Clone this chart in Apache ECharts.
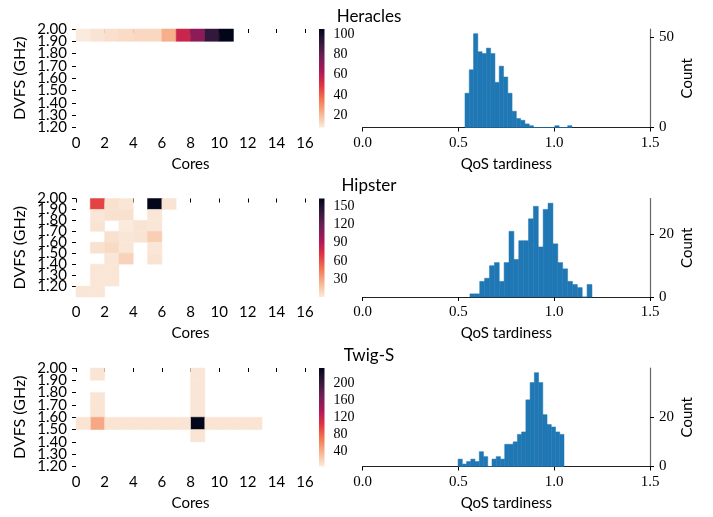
<!DOCTYPE html>
<html><head><meta charset="utf-8">
<script src="https://cdn.jsdelivr.net/npm/echarts@6/dist/echarts.min.js"></script>
<style>html,body{margin:0;padding:0;background:#fff}#c{width:713px;height:517px}</style>
</head><body><div id="c"></div>
<script>
// ---------- data ----------
const panelNames = ['Heracles', 'Hipster', 'Twig-S'];
const coreTickStep = 2;
const dvfsTickLabels = ['2.00','1.90','1.80','1.70','1.60','1.50','1.40','1.30','1.20'];
const dvfsRowCounts = [8, 9, 8];

// heatmap cells: [core, dvfsRow (0 = top), count]
const heraclesCells = [[0,0,8],[1,0,10],[2,0,11],[3,0,12],[4,0,13],[5,0,13],[6,0,23],[7,0,56],[8,0,71],[9,0,92],[10,0,105]];
const hipsterCells = [
  [1,0,65],[2,0,5],[3,0,3],[5,0,162],[6,0,4],
  [1,1,3],[2,1,5],[3,1,5],[5,1,3],
  [1,2,4],[3,2,1],[4,2,4],[5,2,3],
  [2,3,5],[3,3,3],[4,3,4],[5,3,13],
  [1,4,5],[2,4,8],[3,4,3],[5,4,3],
  [2,5,3],[3,5,11],[5,5,4],
  [1,6,3],[2,6,3],
  [1,7,3],[2,7,3],
  [0,8,3],[1,8,3]
];
const twigCells = [
  [1,0,9],[1,2,9],[1,3,9],[1,4,44],
  [8,0,8],[8,1,8],[8,2,8],[8,3,8],[8,4,235],[8,5,9],
  [0,4,9],[2,4,9],[3,4,9],[4,4,9],[5,4,9],[6,4,9],[7,4,9],[9,4,9],[10,4,9],[11,4,9],[12,4,9]
];
const heraclesColorRange = [8, 105];
const hipsterColorRange = [1, 162];
const twigColorRange = [5, 235];
const heraclesColorTicks = [20,40,60,80,100];
const hipsterColorTicks = [30,60,90,120,150];
const twigColorTicks = [40,80,120,160,200];

// histograms
const qosTickStep = 0.5;
const heraclesBinStart = 0.534, heraclesBinWidth = 0.02235;
const heraclesCounts = [19,32,52,42,41,44,41,25,34,28,19,9,5,4,2,1,0,0,0,0,0,1,0,0,1];
const hipsterBinStart = 0.560, hipsterBinWidth = 0.02548;
const hipsterCounts = [1,1,5,6,10,11,5,11,21,12,18,18,25,29,16,28,30,17,11,9,5,4,3,0,4];
const twigBinStart = 0.498, twigBinWidth = 0.02212;
const twigCounts = [3,1,2,3,2,6,4,0,3,4,3,9,9,10,13,14,27,34,38,34,21,17,16,14,13];
const heraclesCountTicks = [0, 50];
const hipsterCountTicks = [0, 20];
const twigCountTicks = [0, 20];

// ---------- styling / layout ----------
const SANS = 'Lato';
const SERIF = 'Liberation Serif';
const rocketR = ['#faebdd','#f6b48f','#f37651','#e13342','#ad1759','#701f57','#35193e','#03051a'];
const rowTops = [29, 198.5, 368];
const rowH = 98.5;

const cellsAll = [heraclesCells, hipsterCells, twigCells];
const ranges = [heraclesColorRange, hipsterColorRange, twigColorRange];
const cTicks = [heraclesColorTicks, hipsterColorTicks, twigColorTicks];
const hists = [
  [heraclesBinStart, heraclesBinWidth, heraclesCounts, heraclesCountTicks],
  [hipsterBinStart, hipsterBinWidth, hipsterCounts, hipsterCountTicks],
  [twigBinStart, twigBinWidth, twigCounts, twigCountTicks]
];

const grid = [], xAxis = [], yAxis = [], series = [], visualMap = [], title = [];
const tickStyle = {color: '#000', width: 1};
const rowIdx = dvfsTickLabels.map((_, i) => i);
const evenIdx = rowIdx.filter(i => i % 2 === 0);
const oddIdx = rowIdx.filter(i => i % 2 === 1);
const dvfsLabelStyle = {margin: 9, fontFamily: SANS, fontSize: 15, color: '#000',
  showMinLabel: true, showMaxLabel: true, formatter: v => dvfsTickLabels[Math.round(v)]};

for (let p = 0; p < 3; p++) {
  const top = rowTops[p];
  const gHeat = grid.length;
  grid.push({left: 76, top: top, width: 229, height: rowH});
  const gBar = grid.length;
  grid.push({left: 319, top: top, width: 5.5, height: rowH});
  const gHist = grid.length;
  grid.push({left: 362.7, top: top, width: 287.3, height: rowH});
  const nRows = dvfsRowCounts[p];

  // heatmap axes
  const xHeat = xAxis.length;
  xAxis.push({gridIndex: gHeat, type: 'value', min: 0, max: 16, interval: coreTickStep,
    name: 'Cores', nameLocation: 'middle', nameGap: 29,
    nameTextStyle: {fontFamily: SANS, fontSize: 15, color: '#000'},
    axisLine: {show: false}, axisTick: {show: true, length: 4, lineStyle: tickStyle},
    axisLabel: {margin: 8, fontFamily: SANS, fontSize: 15, color: '#000', showMinLabel: true, showMaxLabel: true},
    splitLine: {show: false}});
  const yHeat = yAxis.length;
  yAxis.push({gridIndex: gHeat, type: 'value', min: 0, max: nRows, inverse: true, position: 'left',
    name: 'DVFS (GHz)', nameLocation: 'middle', nameGap: 48, nameRotate: 90, nameMoveOverlap: false,
    nameTextStyle: {fontFamily: SANS, fontSize: 16, color: '#000'},
    axisLine: {show: false},
    axisTick: {show: true, length: 4, lineStyle: tickStyle, customValues: rowIdx},
    axisLabel: Object.assign({customValues: evenIdx}, dvfsLabelStyle),
    splitLine: {show: false}});
  yAxis.push({gridIndex: gHeat, type: 'value', min: 0, max: nRows, inverse: true, position: 'left', offset: 0,
    axisLine: {show: false}, axisTick: {show: false},
    axisLabel: Object.assign({customValues: oddIdx}, dvfsLabelStyle),
    splitLine: {show: false}});
  // colorbar axes
  const rg = ranges[p];
  const xBar = xAxis.length;
  xAxis.push({gridIndex: gBar, type: 'value', min: 0, max: 1, show: false});
  const yBar = yAxis.length;
  yAxis.push({gridIndex: gBar, type: 'value', min: rg[0], max: rg[1], position: 'right',
    axisLine: {show: false},
    axisTick: {show: true, length: 4, lineStyle: tickStyle, customValues: cTicks[p]},
    axisLabel: {margin: 9, fontFamily: SERIF, fontSize: 14, color: '#000', customValues: cTicks[p],
      showMinLabel: true, showMaxLabel: true},
    splitLine: {show: false}});
  // histogram axes
  const h = hists[p];
  const ymax = Math.max.apply(null, h[2]) * 1.05;
  const xHist = xAxis.length;
  xAxis.push({gridIndex: gHist, type: 'value', min: 0, max: 1.5, interval: qosTickStep,
    name: 'QoS tardiness', nameLocation: 'middle', nameGap: 29,
    nameTextStyle: {fontFamily: SANS, fontSize: 15, color: '#000'},
    axisLine: {show: true, onZero: false, lineStyle: {color: '#222', width: 1.2}},
    axisTick: {show: true, length: 4, lineStyle: tickStyle},
    axisLabel: {margin: 8, fontFamily: SERIF, fontSize: 15, color: '#000', formatter: v => v.toFixed(1),
      showMinLabel: true, showMaxLabel: true},
    splitLine: {show: false}});
  const yHist = yAxis.length;
  yAxis.push({gridIndex: gHist, type: 'value', min: 0, max: ymax, position: 'right',
    name: 'Count', nameLocation: 'middle', nameGap: 30, nameRotate: 90,
    nameTextStyle: {fontFamily: SANS, fontSize: 15, color: '#000'},
    axisLine: {show: true, onZero: false, lineStyle: {color: '#666', width: 1.2}},
    axisTick: {show: true, length: 4, lineStyle: tickStyle, customValues: h[3]},
    axisLabel: {margin: 9, fontFamily: SERIF, fontSize: 15, color: '#000', customValues: h[3],
      showMinLabel: true, showMaxLabel: true},
    splitLine: {show: false}});

  // heatmap cells
  const cellSeriesIndex = series.length;
  series.push({type: 'custom', xAxisIndex: xHeat, yAxisIndex: yHeat, coordinateSystem: 'cartesian2d',
    encode: {x: 0, y: 1}, data: cellsAll[p],
    renderItem: function (params, api) {
      const c = api.value(0), r = api.value(1);
      const a = api.coord([c, r]), b = api.coord([c + 1, r + 1]);
      const col = api.visual('color');
      return {type: 'rect', shape: {x: Math.min(a[0], b[0]), y: Math.min(a[1], b[1]),
        width: Math.abs(b[0] - a[0]), height: Math.abs(b[1] - a[1])},
        style: {fill: col, stroke: col, lineWidth: 0.5}};
    }});
  visualMap.push({type: 'continuous', show: false, seriesIndex: cellSeriesIndex, dimension: 2,
    min: rg[0], max: rg[1], inRange: {color: rocketR}});
  // colorbar
  series.push({type: 'custom', xAxisIndex: xBar, yAxisIndex: yBar, coordinateSystem: 'cartesian2d',
    data: [[0, rg[0], 1, rg[1]]], silent: true,
    renderItem: function (params, api) {
      const a = api.coord([api.value(0), api.value(3)]);
      const b = api.coord([api.value(2), api.value(1)]);
      const stops = rocketR.slice().reverse().map((c, i) => ({offset: i / (rocketR.length - 1), color: c}));
      return {type: 'rect', shape: {x: a[0], y: a[1], width: b[0] - a[0], height: b[1] - a[1]},
        style: {fill: new echarts.graphic.LinearGradient(0, 0, 0, 1, stops)}};
    }});
  // histogram
  const bins = h[2].map((cnt, i) => [h[0] + i * h[1], h[0] + (i + 1) * h[1], cnt]);
  series.push({type: 'custom', xAxisIndex: xHist, yAxisIndex: yHist, coordinateSystem: 'cartesian2d',
    encode: {x: [0, 1], y: 2}, data: bins, z: 1,
    renderItem: function (params, api) {
      const a = api.coord([api.value(0), api.value(2)]);
      const b = api.coord([api.value(1), 0]);
      return {type: 'rect', shape: {x: a[0], y: a[1], width: b[0] - a[0], height: b[1] - a[1]},
        style: {fill: '#1f77b4', stroke: '#1f77b4', lineWidth: 0.5}};
    }});

  title.push({text: panelNames[p], left: 364, top: top - 26, textAlign: 'center',
    textStyle: {fontFamily: SANS, fontSize: 17, fontWeight: 'normal', color: '#000'}});
}

const chart = echarts.init(document.getElementById('c'), null, {renderer: 'canvas'});
chart.setOption({animation: false, backgroundColor: '#fff', title, grid, xAxis, yAxis, visualMap, series});
</script>
</body></html>
